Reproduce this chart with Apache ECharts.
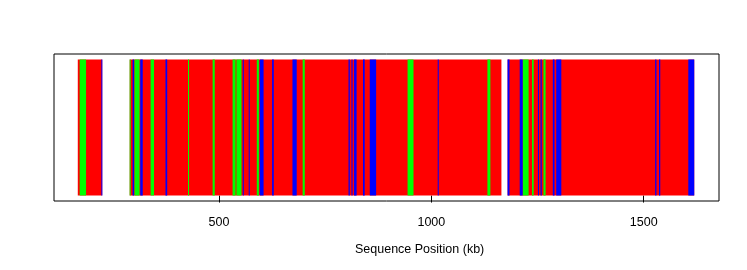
<!DOCTYPE html>
<html><head><meta charset="utf-8">
<script src="https://cdn.jsdelivr.net/npm/echarts@6/dist/echarts.min.js"></script>
<style>html,body{margin:0;padding:0;background:#fff}#c{width:747px;height:270px}</style>
</head><body><div id="c"></div>
<script>
// Sequence positions in kb
const tickValues = [500, 1000, 1500];
const redStart = [167.5, 289.7, 1179.5];
const redEnd   = [225, 1165, 1619];
const greenStart = [172, 289.7, 301, 339, 427, 485, 532, 541, 589, 697, 944, 1132, 1215, 1237, 1264];
const greenEnd   = [187, 292, 313, 347, 429.5, 490, 539, 553, 594, 702, 958, 1139, 1229, 1241, 1269];
const blueStart = [223, 296.5, 314.6, 374, 556, 570, 596, 625, 673, 805, 812, 818, 839, 855, 1015, 1179.5, 1208, 1251, 1257, 1286, 1294, 1527, 1536, 1605];
const blueEnd   = [225, 300, 320.4, 378, 558, 572, 605, 629, 683, 808, 814, 824, 843, 870, 1017, 1184, 1215, 1253, 1260, 1290, 1306, 1530, 1539, 1619];

function toData(s, e) { return s.map((v, i) => [v, e[i]]); }

function renderSeg(color) {
  return function (params, api) {
    const p0 = api.coord([api.value(0), 0]);
    const p1 = api.coord([api.value(1), 1]);
    let w = p1[0] - p0[0];
    if (w < 1) w = 1;
    return {
      type: 'rect',
      shape: { x: p0[0], y: p1[1], width: w, height: p0[1] - p1[1] },
      style: { fill: color }
    };
  };
}

const chart = echarts.init(document.getElementById('c'), null, { renderer: 'canvas' });
chart.setOption({
  animation: false,
  grid: { left: 54, right: 28, top: 54, bottom: 69, show: true, borderColor: '#000', borderWidth: 1, backgroundColor: 'transparent' },
  xAxis: {
    type: 'value', min: 111.5, max: 1677.3,
    axisLine: { show: false },
    splitLine: { show: false },
    axisTick: { show: true, customValues: tickValues, length: 7, lineStyle: { color: '#000' } },
    axisLabel: { show: true, customValues: tickValues, margin: 15, color: '#000', fontSize: 12.5,
      fontFamily: 'Liberation Sans, Arial, sans-serif', formatter: v => String(v) }
  },
  yAxis: { type: 'value', min: -0.04, max: 1.04, show: false, splitLine: { show: false } },
  graphic: [{
    type: 'text', left: 355, top: 243,
    style: { text: 'Sequence Position (kb)', fill: '#000', font: '12.5px "Liberation Sans", Arial, sans-serif' }
  }],
  series: [
    { type: 'custom', renderItem: renderSeg('#FF0000'), data: toData(redStart, redEnd), encode: { x: [0, 1] }, clip: true },
    { type: 'custom', renderItem: renderSeg('#00FF00'), data: toData(greenStart, greenEnd), encode: { x: [0, 1] }, clip: true },
    { type: 'custom', renderItem: renderSeg('#0000FF'), data: toData(blueStart, blueEnd), encode: { x: [0, 1] }, clip: true }
  ]
});
</script></body></html>
